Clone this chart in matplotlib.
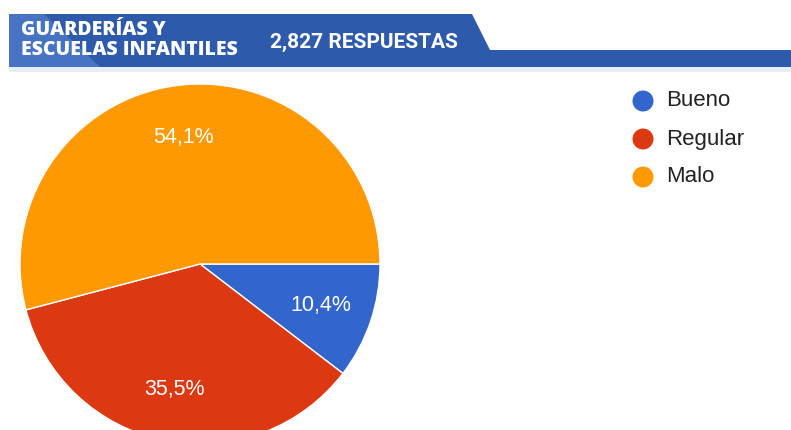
import matplotlib
matplotlib.use("Agg")
import matplotlib.pyplot as plt
from matplotlib.patches import Polygon, Circle

# datos
categorias = ["Bueno", "Regular", "Malo"]
porcentajes = [10.4, 35.5, 54.1]
colores = ["#3366cc", "#dc3912", "#ff9900"]
titulo = "GUARDERÍAS Y\nESCUELAS INFANTILES"
respuestas = "2,827 RESPUESTAS"

W, H = 791, 430
fig = plt.figure(figsize=(W / 100, H / 100), dpi=100)
ax = fig.add_axes([0, 0, 1, 1])


def Y(y):
    # coordenadas de pixel (desde arriba) a datos
    return H - y


# cabecera azul
azul = "#2d5aab"
ax.add_patch(Polygon([(9, Y(14)), (472, Y(14)), (490, Y(50)), (W, Y(50)),
                      (W, Y(67)), (9, Y(67))], closed=True, color=azul, lw=0))
ax.add_patch(Polygon([(9, Y(14)), (44, Y(14)), (100, Y(67)), (9, Y(67))],
                     closed=True, color="#4673c2", lw=0))
ax.add_patch(Polygon([(9, Y(67)), (W, Y(67)), (W, Y(72)), (9, Y(72))],
                     closed=True, color="#e6eefa", lw=0))
ax.text(21, Y(40), titulo, color="white", fontsize=14, fontweight="heavy",
        family="Open Sans", va="center", ha="left", linespacing=1.0)
ax.text(270, Y(42), respuestas, color="white", fontsize=15, fontweight="bold",
        family="Roboto", va="center", ha="left")

# tarta
wedges, textos, autotextos = ax.pie(
    porcentajes, colors=colores, startangle=0, counterclock=False,
    center=(200, Y(264)), radius=180, frame=True,
    autopct=lambda p: f"{p:.1f}%".replace(".", ","), pctdistance=0.71,
    wedgeprops=dict(edgecolor="white", linewidth=1),
    textprops=dict(color="white", fontsize=15.5, family="Liberation Sans"))
ax.set_xlim(0, W)
ax.set_ylim(0, H)
ax.set_aspect("equal")
ax.axis("off")

# leyenda
for i, (cat, col) in enumerate(zip(categorias, colores)):
    yy = Y(101 + 38 * i)
    ax.add_patch(Circle((643, yy), 10.5, color=col, lw=0))
    ax.text(666, yy, cat, color="#222222", fontsize=16, family="Liberation Sans",
            va="center", ha="left")

fig.savefig("out.png", dpi=100)
